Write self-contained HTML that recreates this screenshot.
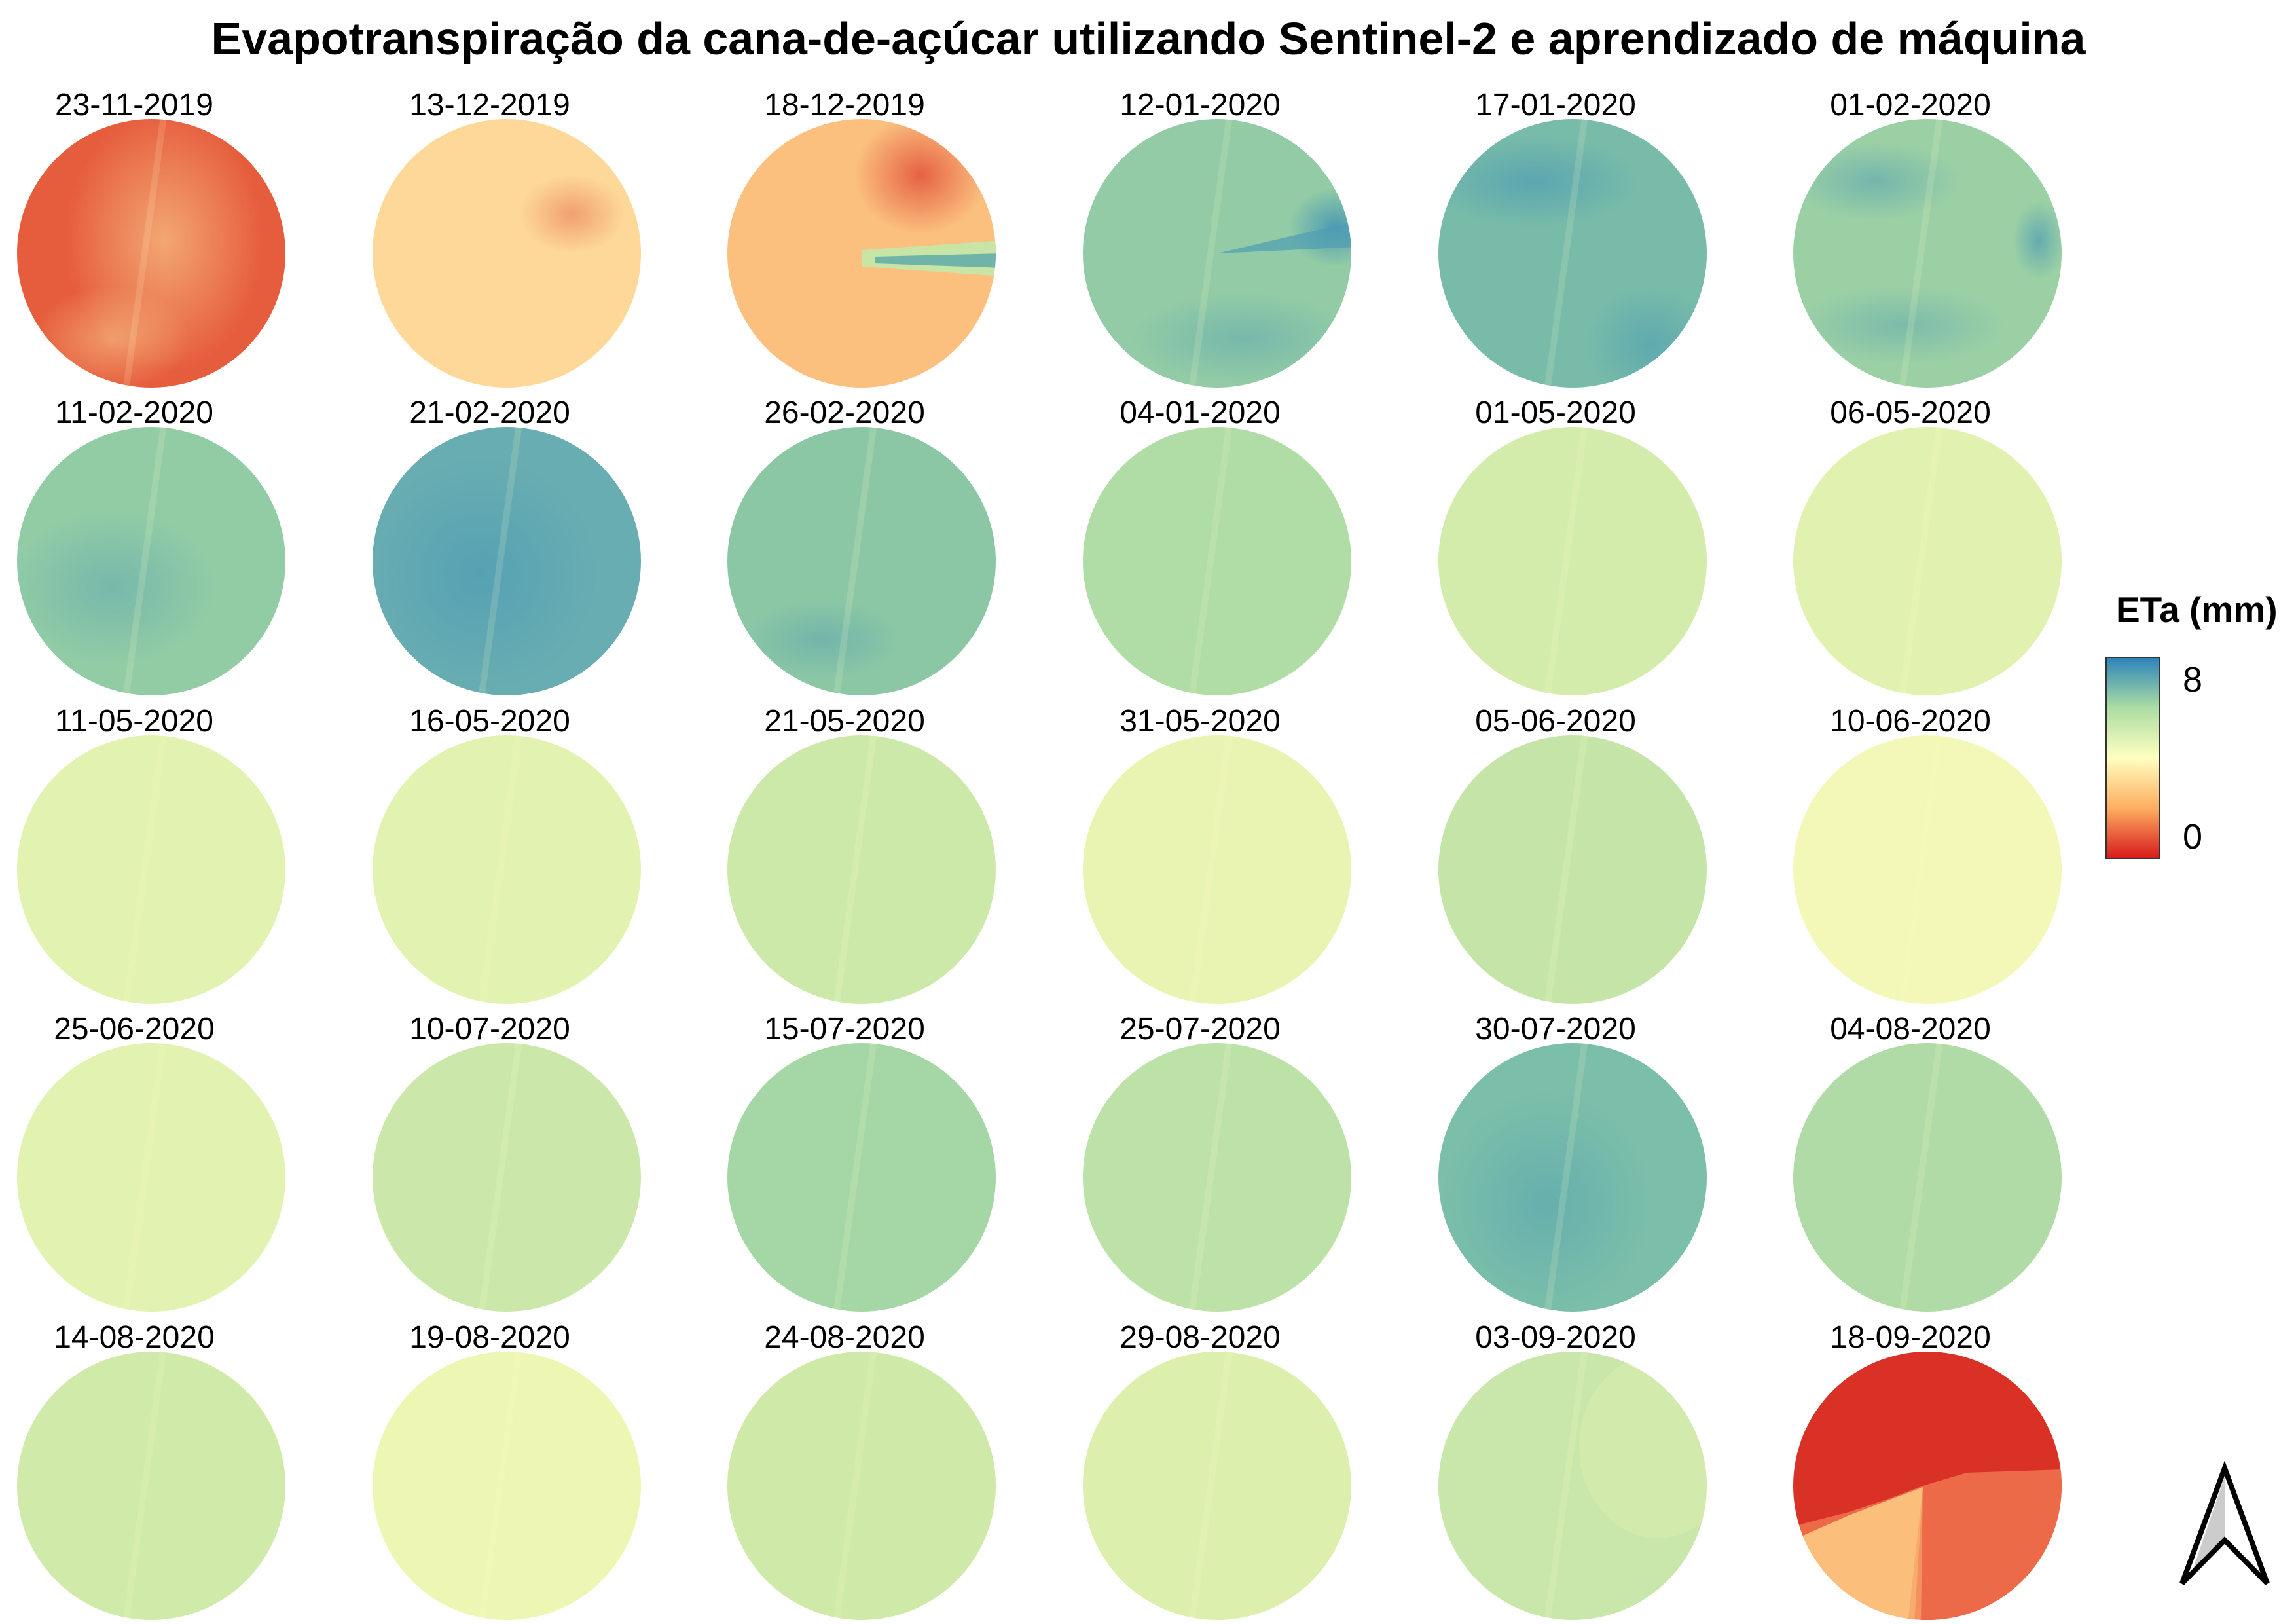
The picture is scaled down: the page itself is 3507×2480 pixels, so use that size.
<!DOCTYPE html>
<html><head><meta charset="utf-8"><style>html,body{margin:0;padding:0;background:#fff}svg{display:block}</style></head>
<body>
<svg width="3507" height="2480" viewBox="0 0 3507 2480" xmlns="http://www.w3.org/2000/svg">
<defs>
<clipPath id="c"><circle cx="0" cy="0" r="205"/></clipPath>
<linearGradient id="lg" x1="0" y1="1" x2="0" y2="0"><stop offset="0" stop-color="#d7191c"/><stop offset="0.25" stop-color="#fdae61"/><stop offset="0.5" stop-color="#ffffbf"/><stop offset="0.75" stop-color="#abdda4"/><stop offset="1" stop-color="#2b83ba"/></linearGradient>
<radialGradient id="r1"><stop offset="0" stop-color="#fde6a0" stop-opacity="0.9"/><stop offset="1" stop-color="#fde6a0" stop-opacity="0"/></radialGradient>
<radialGradient id="rr"><stop offset="0" stop-color="#e04a33" stop-opacity="0.8"/><stop offset="1" stop-color="#e04a33" stop-opacity="0"/></radialGradient>
<radialGradient id="rb"><stop offset="0" stop-color="#3a8fb8" stop-opacity="0.8"/><stop offset="1" stop-color="#3a8fb8" stop-opacity="0"/></radialGradient>
<g id="road"><polygon points="14,-210 24,-210 -34,210 -44,210" fill="#ffffcc" opacity="0.15"/></g>
</defs>
<rect width="3507" height="2480" fill="#fff"/>
<text x="1754" y="83" text-anchor="middle" font-family="Liberation Sans, sans-serif" font-weight="bold" font-size="70">Evapotranspiração da cana-de-açúcar utilizando Sentinel-2 e aprendizado de máquina</text>

<g font-family="Liberation Sans, sans-serif" font-size="48" text-anchor="middle">
<g transform="translate(231,387)"><text x="-26" y="-211">23-11-2019</text><g clip-path="url(#c)"><rect x="-210" y="-210" width="420" height="420" fill="#e65d3d"/><ellipse cx="20" cy="-20" rx="150" ry="200" fill="url(#r1)" opacity="0.6"/><ellipse cx="-60" cy="130" rx="120" ry="80" fill="url(#r1)" opacity="0.5"/><use href="#road"/></g></g>
<g transform="translate(774,387)"><text x="-26" y="-211">13-12-2019</text><g clip-path="url(#c)"><rect x="-210" y="-210" width="420" height="420" fill="#fdd898"/><ellipse cx="100" cy="-60" rx="80" ry="60" fill="url(#rr)" opacity="0.5"/></g></g>
<g transform="translate(1316,387)"><text x="-26" y="-211">18-12-2019</text><g clip-path="url(#c)"><rect x="-210" y="-210" width="420" height="420" fill="#fbbf7e"/><ellipse cx="90" cy="-120" rx="100" ry="90" fill="url(#rr)"/><polygon points="0,-5 215,-20 215,35 0,20" fill="#c9e5a6"/><polygon points="20,5 215,0 215,22 20,15" fill="#6fb3a9"/></g></g>
<g transform="translate(1859,387)"><text x="-26" y="-211">12-01-2020</text><g clip-path="url(#c)"><rect x="-210" y="-210" width="420" height="420" fill="#92cba5"/><ellipse cx="180" cy="-40" rx="70" ry="60" fill="url(#rb)"/><polygon points="0,0 215,-50 215,-10" fill="#4f9db3" opacity="0.7"/><ellipse cx="40" cy="130" rx="170" ry="70" fill="url(#rb)" opacity="0.4"/><use href="#road"/></g></g>
<g transform="translate(2402,387)"><text x="-26" y="-211">17-01-2020</text><g clip-path="url(#c)"><rect x="-210" y="-210" width="420" height="420" fill="#78bba9"/><ellipse cx="-60" cy="-110" rx="160" ry="70" fill="url(#rb)" opacity="0.6"/><ellipse cx="120" cy="140" rx="100" ry="90" fill="url(#rb)" opacity="0.5"/><use href="#road"/></g></g>
<g transform="translate(2944,387)"><text x="-26" y="-211">01-02-2020</text><g clip-path="url(#c)"><rect x="-210" y="-210" width="420" height="420" fill="#9bd0a5"/><ellipse cx="-80" cy="-110" rx="130" ry="60" fill="url(#rb)" opacity="0.5"/><ellipse cx="170" cy="-20" rx="40" ry="60" fill="url(#rb)" opacity="0.7"/><ellipse cx="-40" cy="110" rx="160" ry="60" fill="url(#rb)" opacity="0.4"/><use href="#road"/></g></g>
<g transform="translate(231,857)"><text x="-26" y="-211">11-02-2020</text><g clip-path="url(#c)"><rect x="-210" y="-210" width="420" height="420" fill="#92cca5"/><ellipse cx="-60" cy="40" rx="160" ry="120" fill="url(#rb)" opacity="0.4"/><use href="#road"/></g></g>
<g transform="translate(774,857)"><text x="-26" y="-211">21-02-2020</text><g clip-path="url(#c)"><rect x="-210" y="-210" width="420" height="420" fill="#68adb1"/><ellipse cx="-40" cy="20" rx="180" ry="180" fill="url(#rb)" opacity="0.5"/><use href="#road"/></g></g>
<g transform="translate(1316,857)"><text x="-26" y="-211">26-02-2020</text><g clip-path="url(#c)"><rect x="-210" y="-210" width="420" height="420" fill="#8bc7a5"/><ellipse cx="-60" cy="120" rx="120" ry="60" fill="url(#rb)" opacity="0.4"/><use href="#road"/></g></g>
<g transform="translate(1859,857)"><text x="-26" y="-211">04-01-2020</text><g clip-path="url(#c)"><rect x="-210" y="-210" width="420" height="420" fill="#b0dca5"/><use href="#road"/></g></g>
<g transform="translate(2402,857)"><text x="-26" y="-211">01-05-2020</text><g clip-path="url(#c)"><rect x="-210" y="-210" width="420" height="420" fill="#d3ecac"/><use href="#road"/></g></g>
<g transform="translate(2944,857)"><text x="-26" y="-211">06-05-2020</text><g clip-path="url(#c)"><rect x="-210" y="-210" width="420" height="420" fill="#e1f1b0"/><use href="#road"/></g></g>
<g transform="translate(231,1328)"><text x="-26" y="-211">11-05-2020</text><g clip-path="url(#c)"><rect x="-210" y="-210" width="420" height="420" fill="#e2f2b0"/><use href="#road"/></g></g>
<g transform="translate(774,1328)"><text x="-26" y="-211">16-05-2020</text><g clip-path="url(#c)"><rect x="-210" y="-210" width="420" height="420" fill="#e2f2b0"/><use href="#road"/></g></g>
<g transform="translate(1316,1328)"><text x="-26" y="-211">21-05-2020</text><g clip-path="url(#c)"><rect x="-210" y="-210" width="420" height="420" fill="#cde9aa"/><use href="#road"/></g></g>
<g transform="translate(1859,1328)"><text x="-26" y="-211">31-05-2020</text><g clip-path="url(#c)"><rect x="-210" y="-210" width="420" height="420" fill="#e9f4b2"/><use href="#road"/></g></g>
<g transform="translate(2402,1328)"><text x="-26" y="-211">05-06-2020</text><g clip-path="url(#c)"><rect x="-210" y="-210" width="420" height="420" fill="#c5e5a8"/><use href="#road"/></g></g>
<g transform="translate(2944,1328)"><text x="-26" y="-211">10-06-2020</text><g clip-path="url(#c)"><rect x="-210" y="-210" width="420" height="420" fill="#f3f8b8"/><use href="#road"/></g></g>
<g transform="translate(231,1798)"><text x="-26" y="-211">25-06-2020</text><g clip-path="url(#c)"><rect x="-210" y="-210" width="420" height="420" fill="#e2f2b0"/><use href="#road"/></g></g>
<g transform="translate(774,1798)"><text x="-26" y="-211">10-07-2020</text><g clip-path="url(#c)"><rect x="-210" y="-210" width="420" height="420" fill="#cbe8aa"/><use href="#road"/></g></g>
<g transform="translate(1316,1798)"><text x="-26" y="-211">15-07-2020</text><g clip-path="url(#c)"><rect x="-210" y="-210" width="420" height="420" fill="#a5d6a5"/><use href="#road"/></g></g>
<g transform="translate(1859,1798)"><text x="-26" y="-211">25-07-2020</text><g clip-path="url(#c)"><rect x="-210" y="-210" width="420" height="420" fill="#bce2a8"/><use href="#road"/></g></g>
<g transform="translate(2402,1798)"><text x="-26" y="-211">30-07-2020</text><g clip-path="url(#c)"><rect x="-210" y="-210" width="420" height="420" fill="#7bbea9"/><ellipse cx="-40" cy="40" rx="160" ry="170" fill="url(#rb)" opacity="0.4"/><use href="#road"/></g></g>
<g transform="translate(2944,1798)"><text x="-26" y="-211">04-08-2020</text><g clip-path="url(#c)"><rect x="-210" y="-210" width="420" height="420" fill="#b0dba6"/><use href="#road"/></g></g>
<g transform="translate(231,2269)"><text x="-26" y="-211">14-08-2020</text><g clip-path="url(#c)"><rect x="-210" y="-210" width="420" height="420" fill="#cfeaa9"/><use href="#road"/></g></g>
<g transform="translate(774,2269)"><text x="-26" y="-211">19-08-2020</text><g clip-path="url(#c)"><rect x="-210" y="-210" width="420" height="420" fill="#eef6b4"/><use href="#road"/></g></g>
<g transform="translate(1316,2269)"><text x="-26" y="-211">24-08-2020</text><g clip-path="url(#c)"><rect x="-210" y="-210" width="420" height="420" fill="#cfe9a9"/><use href="#road"/></g></g>
<g transform="translate(1859,2269)"><text x="-26" y="-211">29-08-2020</text><g clip-path="url(#c)"><rect x="-210" y="-210" width="420" height="420" fill="#dcefad"/><use href="#road"/></g></g>
<g transform="translate(2402,2269)"><text x="-26" y="-211">03-09-2020</text><g clip-path="url(#c)"><rect x="-210" y="-210" width="420" height="420" fill="#c9e7aa"/><ellipse cx="130" cy="-60" rx="120" ry="140" fill="#e2f2b0" opacity="0.4"/><use href="#road"/></g></g>
<g transform="translate(2944,2269)"><text x="-26" y="-211">18-09-2020</text><g clip-path="url(#c)"><rect x="-210" y="-210" width="420" height="420" fill="#da3127"/><polygon points="-210,63 -120,40 -60,20 -7,0 60,-20 210,-25 210,210 -210,210" fill="#ec6a47"/><polygon points="-210,85 -120,45 -60,22 -7,2 -20,210 -210,210" fill="#fbbe7b"/><polygon points="-7,2 -30,210 -10,210" fill="#f7a36a" opacity="0.7"/></g></g>
</g>

<text x="3232" y="950" font-family="Liberation Sans, sans-serif" font-weight="bold" font-size="55">ETa (mm)</text>
<rect x="3217" y="1004" width="82" height="307" fill="url(#lg)" stroke="#333" stroke-width="2"/>
<text x="3334" y="1056" font-family="Liberation Sans, sans-serif" font-size="54">8</text>
<text x="3334" y="1296" font-family="Liberation Sans, sans-serif" font-size="54">0</text>

<polygon points="3398,2255 3398,2348 3345,2410" fill="#ccc"/>
<polygon points="3398,2242 3463,2418 3398,2352 3333,2418" fill="none" stroke="#000" stroke-width="8" stroke-linejoin="miter"/>
</svg>
</body></html>
